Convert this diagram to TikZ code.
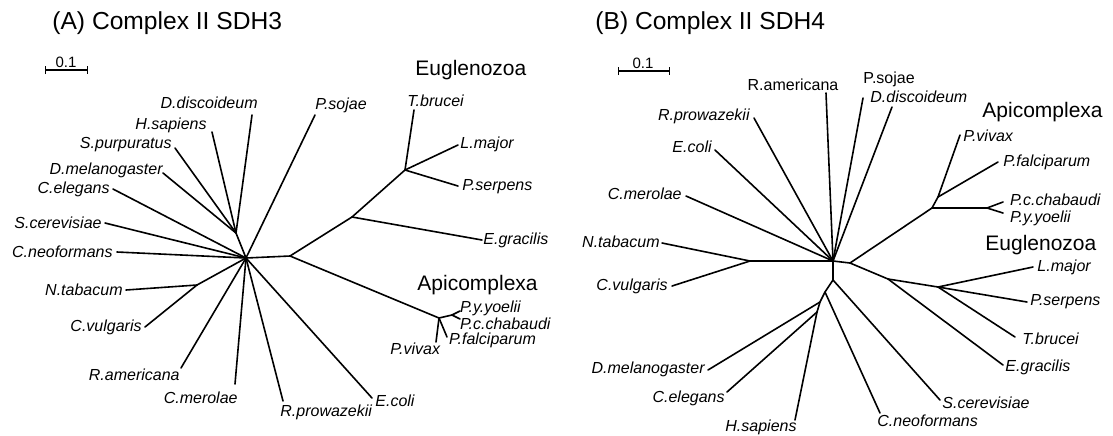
\documentclass[tikz,border=0pt]{standalone}
\usepackage{fontspec}
\setmainfont{Liberation Sans}
\usetikzlibrary{arrows.meta}

\begin{document}
\begin{tikzpicture}[
    x=0.5pt, y=-0.5pt,
    % branches of the unrooted trees
    br/.style={line width=0.8pt, line cap=round, line join=round},
    % species names (italic) and the few printed upright
    sp/.style={font=\fontsize{8}{9}\selectfont\itshape, inner sep=1pt},
    spup/.style={sp, font=\fontsize{8}{9}\selectfont\upshape},
    sptight/.style={sp, inner sep=0.3pt},
    % clade names, panel titles, scale bar
    clade/.style={font=\fontsize{10.5}{12}\selectfont, inner sep=1pt},
    ptitle/.style={font=\fontsize{12.3}{14}\selectfont, inner sep=1pt},
    sbar/.style={line width=0.7pt, {Bar[width=4pt]}-{Bar[width=4pt]}},
    sblab/.style={font=\fontsize{7.5}{9}\selectfont, inner sep=1pt}
  ]
  \useasboundingbox (0,0) rectangle (1113,435);

  % ===================== (A) Complex II SDH3 =====================
  \node[ptitle, anchor=west] (atitle) at (50,23) {(A) Complex II SDH3};
  \coordinate (asb1) at (45,70);
  \coordinate (asb2) at (88,70);
  \draw[sbar] (asb1) -- (asb2);
  \node[sblab] (asbl) at (66,62) {0.1};

  % internal nodes
  \coordinate (aC) at (246,258);
  \coordinate (aD) at (236,233);
  \coordinate (aN) at (197,285);
  \coordinate (aE) at (290,256);
  \coordinate (aG) at (352,217);
  \coordinate (aT) at (405,170);
  \coordinate (aP) at (439,318);
  \coordinate (aQ) at (452,315);

  % leaf tips
  \coordinate (aDdis) at (252,115);
  \coordinate (aHsap) at (212,132);
  \coordinate (aSpur) at (175,148);
  \coordinate (aDmel) at (163,173);
  \coordinate (aCele) at (113,189);
  \coordinate (aScer) at (105,223);
  \coordinate (aCneo) at (117,252);
  \coordinate (aNtab) at (126,290);
  \coordinate (aCvul) at (145,327);
  \coordinate (aRame) at (181,368);
  \coordinate (aCmer) at (235,384);
  \coordinate (aRpro) at (283,401);
  \coordinate (aEcol) at (372,398);
  \coordinate (aPsoj) at (315,115);
  \coordinate (aTbru) at (414,110);
  \coordinate (aLmaj) at (458,145);
  \coordinate (aPser) at (458,186);
  \coordinate (aEgra) at (482,240);
  \coordinate (aPyoe) at (460,311);
  \coordinate (aPcha) at (460,319);
  \coordinate (aPfal) at (447,337);
  \coordinate (aPviv) at (436,342);

  % species names
  \node[sp, anchor=east] (aDdisL) at (260,103) {D.discoideum};
  \node[sp, anchor=east] (aHsapL) at (209,125) {H.sapiens};
  \node[sp, anchor=east] (aSpurL) at (174,145) {S.purpuratus};
  \node[sp, anchor=east] (aDmelL) at (165,170) {D.melanogaster};
  \node[sp, anchor=east] (aCeleL) at (112,189) {C.elegans};
  \node[sp, anchor=east] (aScerL) at (104,223) {S.cerevisiae};
  \node[sp, anchor=east] (aCneoL) at (115,252) {C.neoformans};
  \node[sp, anchor=east] (aNtabL) at (125,290) {N.tabacum};
  \node[sp, anchor=east] (aCvulL) at (144,327) {C.vulgaris};
  \node[sp, anchor=east] (aRameL) at (182,375) {R.americana};
  \node[sp, anchor=east] (aCmerL) at (240,398) {C.merolae};
  \node[sp, anchor=west] (aRproL) at (278,412) {R.prowazekii};
  \node[sp, anchor=west] (aEcolL) at (373,401) {E.coli};
  \node[sp, anchor=west] (aPsojL) at (313,105) {P.sojae};
  \node[sp, anchor=west] (aTbruL) at (405,101) {T.brucei};
  \node[sp, anchor=west] (aLmajL) at (458,144) {L.major};
  \node[sp, anchor=west] (aPserL) at (460,187) {P.serpens};
  \node[sp, anchor=west] (aEgraL) at (481,240) {E.gracilis};
  \node[sptight, anchor=west] (aPyoeL) at (459,308) {P.y.yoelii};
  \node[sptight, anchor=west] (aPchaL) at (459,324) {P.c.chabaudi};
  \node[sptight, anchor=west] (aPfalL) at (448,340) {P.falciparum};
  \node[sptight, anchor=east] (aPvivL) at (441,349) {P.vivax};
  \node[clade, anchor=west] (aEug) at (413,70) {Euglenozoa};
  \node[clade, anchor=west] (aApi) at (415,285) {Apicomplexa};

  % branches
  \draw[br] (aD) -- (aC);
  \draw[br] (aD) -- (aDdis);
  \draw[br] (aD) -- (aHsap);
  \draw[br] (aD) -- (aSpur);
  \draw[br] (aD) -- (aDmel);
  \draw[br] (aC) -- (aCele);
  \draw[br] (aC) -- (aScer);
  \draw[br] (aC) -- (aCneo);
  \draw[br] (aC) -- (aN);
  \draw[br] (aN) -- (aNtab);
  \draw[br] (aN) -- (aCvul);
  \draw[br] (aC) -- (aRame);
  \draw[br] (aC) -- (aCmer);
  \draw[br] (aC) -- (aRpro);
  \draw[br] (aC) -- (aEcol);
  \draw[br] (aC) -- (aPsoj);
  \draw[br] (aC) -- (aE);
  \draw[br] (aE) -- (aG);
  \draw[br] (aG) -- (aEgra);
  \draw[br] (aG) -- (aT);
  \draw[br] (aT) -- (aTbru);
  \draw[br] (aT) -- (aLmaj);
  \draw[br] (aT) -- (aPser);
  \draw[br] (aE) -- (aP);
  \draw[br] (aP) -- (aQ);
  \draw[br] (aQ) -- (aPyoe);
  \draw[br] (aQ) -- (aPcha);
  \draw[br] (aP) -- (aPfal);
  \draw[br] (aP) -- (aPviv);

  % ===================== (B) Complex II SDH4 =====================
  \node[ptitle, anchor=west] (btitle) at (593,23) {(B) Complex II SDH4};
  \coordinate (bsb1) at (618,71);
  \coordinate (bsb2) at (670,71);
  \draw[sbar] (bsb1) -- (bsb2);
  \node[sblab] (bsbl) at (643,63) {0.1};

  % internal nodes
  \coordinate (bC) at (833,261);
  \coordinate (bR) at (850,263);
  \coordinate (bA) at (932,208);
  \coordinate (bV) at (938,197);
  \coordinate (bY) at (987,208);
  \coordinate (bE) at (888,279);
  \coordinate (bL) at (938,287);
  \coordinate (bN) at (750,261);
  \coordinate (bS) at (833,280);
  \coordinate (bK) at (825,292);
  \coordinate (bM) at (820,302);
  \coordinate (bH) at (817,312);

  % leaf tips
  \coordinate (bRame) at (826,93);
  \coordinate (bRpro) at (754,118);
  \coordinate (bEcol) at (715,150);
  \coordinate (bCmer) at (686,196);
  \coordinate (bNtab) at (662,243);
  \coordinate (bCvul) at (672,286);
  \coordinate (bDmel) at (708,370);
  \coordinate (bCele) at (727,392);
  \coordinate (bHsap) at (795,420);
  \coordinate (bCneo) at (880,413);
  \coordinate (bScer) at (940,400);
  \coordinate (bEgra) at (1003,365);
  \coordinate (bTbru) at (1015,337);
  \coordinate (bPser) at (1027,302);
  \coordinate (bLmaj) at (1033,267);
  \coordinate (bPyoe) at (1003,213);
  \coordinate (bPcha) at (1003,202);
  \coordinate (bPfal) at (998,162);
  \coordinate (bPviv) at (960,135);
  \coordinate (bPsoj) at (863,98);
  \coordinate (bDdis) at (892,107);

  % species names
  \node[spup] (bRameL) at (793,85) {R.americana};
  \node[sp, anchor=east] (bRproL) at (752,116) {R.prowazekii};
  \node[sp, anchor=east] (bEcolL) at (714,147) {E.coli};
  \node[sp, anchor=east] (bCmerL) at (684,194) {C.merolae};
  \node[sp, anchor=east] (bNtabL) at (662,242) {N.tabacum};
  \node[sp, anchor=east] (bCvulL) at (670,286) {C.vulgaris};
  \node[sp, anchor=east] (bDmelL) at (707,369) {D.melanogaster};
  \node[sp, anchor=east] (bCeleL) at (727,398) {C.elegans};
  \node[sp] (bHsapL) at (761,427) {H.sapiens};
  \node[sp, anchor=west] (bCneoL) at (875,421) {C.neoformans};
  \node[sp, anchor=west] (bScerL) at (940,403) {S.cerevisiae};
  \node[sp, anchor=west] (bEgraL) at (1003,367) {E.gracilis};
  \node[sp, anchor=west] (bTbruL) at (1020,339) {T.brucei};
  \node[sp, anchor=west] (bPserL) at (1028,302) {P.serpens};
  \node[sp, anchor=west] (bLmajL) at (1035,267) {L.major};
  \node[sptight, anchor=west] (bPyoeL) at (1009,218) {P.y.yoelii};
  \node[sptight, anchor=west] (bPchaL) at (1009,200) {P.c.chabaudi};
  \node[sp, anchor=west] (bPfalL) at (1001,162) {P.falciparum};
  \node[sp, anchor=west] (bPvivL) at (961,136) {P.vivax};
  \node[spup, anchor=west] (bPsojL) at (861,79) {P.sojae};
  \node[sp, anchor=west] (bDdisL) at (868,97) {D.discoideum};
  \node[clade, anchor=west] (bEug) at (983,245) {Euglenozoa};
  \node[clade, anchor=west] (bApi) at (980,112) {Apicomplexa};

  % branches
  \draw[br] (bC) -- (bRame);
  \draw[br] (bC) -- (bRpro);
  \draw[br] (bC) -- (bEcol);
  \draw[br] (bC) -- (bCmer);
  \draw[br] (bC) -- (bPsoj);
  \draw[br] (bC) -- (bDdis);
  \draw[br] (bC) -- (bN);
  \draw[br] (bN) -- (bNtab);
  \draw[br] (bN) -- (bCvul);
  \draw[br] (bC) -- (bR);
  \draw[br] (bR) -- (bA);
  \draw[br] (bA) -- (bV);
  \draw[br] (bV) -- (bPviv);
  \draw[br] (bV) -- (bPfal);
  \draw[br] (bA) -- (bY);
  \draw[br] (bY) -- (bPcha);
  \draw[br] (bY) -- (bPyoe);
  \draw[br] (bR) -- (bE);
  \draw[br] (bE) -- (bEgra);
  \draw[br] (bE) -- (bL);
  \draw[br] (bL) -- (bLmaj);
  \draw[br] (bL) -- (bPser);
  \draw[br] (bL) -- (bTbru);
  \draw[br] (bC) -- (bS) -- (bK) -- (bM) -- (bH);
  \draw[br] (bS) -- (bScer);
  \draw[br] (bK) -- (bCneo);
  \draw[br] (bM) -- (bDmel);
  \draw[br] (bH) -- (bCele);
  \draw[br] (bH) -- (bHsap);

\end{tikzpicture}
\end{document}
